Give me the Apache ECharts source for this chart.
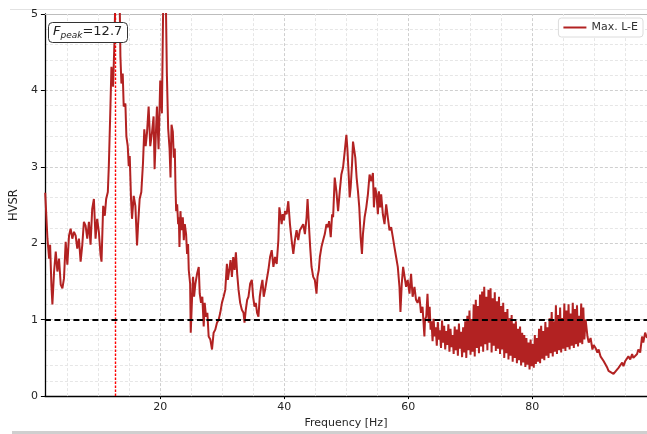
<!DOCTYPE html>
<html>
<head>
<meta charset="utf-8">
<script src="https://cdn.jsdelivr.net/npm/echarts@6/dist/echarts.min.js"></script>
<style>
html, body { margin: 0; padding: 0; background: #fff; }
#chart { width: 647px; height: 434px; }
</style>
</head>
<body>
<div id="chart"></div>
<script>
// HVSR curve, [frequency Hz, H/V ratio]
var segLow = [
    [1.45, 2.66], [1.54, 2.64], [1.81, 2.06], [2.08, 1.80], [2.24, 1.98], [2.45, 1.45], [2.61, 1.20],
    [2.88, 1.63], [3.15, 1.89], [3.41, 1.63], [3.68, 1.80], [3.95, 1.46], [4.22, 1.41], [4.48, 1.54],
    [4.75, 2.02], [5.02, 1.72], [5.29, 2.10], [5.55, 2.19], [5.82, 2.06], [6.09, 2.15], [6.36, 2.10],
    [6.62, 1.93], [6.89, 2.06], [7.16, 1.76], [7.43, 1.98], [7.69, 2.28], [7.96, 2.23], [8.23, 2.06],
    [8.50, 2.28], [8.76, 1.98], [9.03, 2.45], [9.30, 2.58], [9.57, 2.06], [9.83, 2.32], [10.10, 2.15],
    [10.37, 1.85], [10.53, 1.76], [10.80, 2.49], [11.06, 2.36], [11.28, 2.58], [11.55, 2.67], [11.71, 3.01],
    [11.97, 3.79], [12.13, 4.31], [12.40, 4.05], [12.62, 4.65], [12.78, 5.30], [13.04, 5.60], [13.30, 5.45],
    [13.47, 5.10], [13.58, 4.44], [13.74, 4.09], [13.95, 4.22], [14.11, 3.79], [14.38, 3.83], [14.54, 3.40],
    [14.76, 3.27], [14.92, 3.01], [15.08, 3.14], [15.29, 2.58], [15.45, 2.32], [15.72, 2.62], [15.99, 2.49],
    [16.26, 1.97], [16.42, 2.23], [16.68, 2.58], [16.95, 2.67], [17.22, 3.05], [17.43, 3.49], [17.65, 3.27],
    [17.86, 3.44], [18.13, 3.79], [18.39, 3.27], [18.66, 3.44], [18.93, 3.66], [19.09, 2.97], [19.30, 3.44],
    [19.47, 3.79], [19.73, 3.23], [20.00, 4.13], [20.27, 3.70], [20.53, 5.50], [20.80, 5.80], [21.07, 4.22]
];
var segMid = [
    [21.28, 3.50], [21.50, 3.24], [21.66, 2.86], [21.82, 3.55], [22.03, 3.46], [22.19, 3.12], [22.35, 3.24],
    [22.46, 2.73], [22.57, 2.42], [22.73, 2.51], [22.89, 2.25], [23.00, 2.34], [23.10, 1.95], [23.26, 2.42],
    [23.42, 2.17], [23.64, 2.34], [23.80, 2.04], [23.96, 2.25], [24.17, 2.12], [24.33, 1.86], [24.49, 1.99],
    [24.60, 1.65], [24.82, 1.47], [24.92, 0.83], [25.14, 1.30], [25.30, 1.56], [25.46, 1.30], [25.67, 1.47],
    [25.94, 1.60], [26.21, 1.69], [26.37, 1.34], [26.58, 1.22], [26.79, 1.30], [27.01, 0.91], [27.17, 1.22],
    [27.38, 1.04], [27.60, 1.09], [27.81, 0.78], [28.08, 0.74], [28.35, 0.61], [28.61, 0.83], [28.88, 0.87],
    [29.15, 0.96], [29.42, 1.00], [29.68, 1.09], [29.95, 1.22], [30.22, 1.30], [30.49, 1.39], [30.75, 1.73],
    [30.91, 1.52], [31.13, 1.65], [31.34, 1.78], [31.56, 1.56], [31.77, 1.82], [31.99, 1.65], [32.20, 1.88],
    [32.41, 1.60], [32.63, 1.39], [32.89, 1.22], [33.16, 1.13], [33.43, 1.09], [33.59, 0.96], [33.80, 1.13],
    [34.02, 1.26], [34.23, 1.30], [34.50, 1.47], [34.77, 1.52], [34.98, 1.30], [35.20, 1.17], [35.41, 1.22],
    [35.62, 1.09], [35.84, 1.04], [36.05, 1.30], [36.27, 1.43], [36.48, 1.52], [36.69, 1.30], [36.91, 1.39],
    [37.17, 1.52], [37.44, 1.65], [37.71, 1.82], [37.98, 1.91], [38.25, 1.69], [38.51, 1.82], [38.78, 1.73],
    [39.05, 2.04], [39.21, 2.47], [39.37, 2.38], [39.58, 2.25], [39.74, 2.38], [39.96, 2.30], [40.12, 2.42],
    [40.39, 2.38], [40.65, 2.55], [40.92, 2.25], [41.19, 2.04]
];
var segPeak = [
    [41.46, 1.86], [41.72, 2.04], [41.99, 2.17], [42.26, 2.04], [42.52, 2.17], [42.79, 2.21], [43.06, 2.25],
    [43.33, 2.12], [43.60, 2.34], [43.76, 2.58], [43.97, 2.25], [44.18, 1.95], [44.40, 1.69], [44.67, 1.56],
    [44.93, 1.52], [45.20, 1.34], [45.36, 1.56], [45.57, 1.65], [45.74, 1.82], [46.00, 1.95], [46.27, 2.04],
    [46.54, 2.12], [46.81, 2.25], [47.07, 2.21], [47.23, 2.29], [47.50, 2.08], [47.72, 2.38], [47.88, 2.34],
    [48.14, 2.86], [48.41, 2.68], [48.68, 2.42], [48.95, 2.68], [49.21, 2.90], [49.48, 2.99], [49.75, 3.20],
    [50.02, 3.42], [50.18, 3.24], [50.39, 2.90], [50.55, 2.60], [50.71, 2.73], [50.93, 3.03], [51.09, 3.33],
    [51.25, 3.35], [51.46, 3.12], [51.67, 2.86], [51.89, 2.68], [52.10, 2.47], [52.32, 2.08], [52.53, 1.86],
    [52.69, 2.12], [52.96, 2.34], [53.23, 2.47], [53.49, 2.64], [53.76, 2.90], [54.03, 2.81], [54.30, 2.92],
    [54.46, 2.47], [54.67, 2.73], [54.88, 2.64], [55.10, 2.38], [55.26, 2.68], [55.47, 2.47], [55.63, 2.64],
    [55.90, 2.38], [56.17, 2.25], [56.44, 2.51], [56.70, 2.34], [56.97, 2.17], [57.24, 2.21], [57.51, 2.08],
    [57.77, 1.95], [58.04, 1.82], [58.31, 1.69], [58.58, 1.43], [58.74, 1.10], [58.95, 1.47], [59.17, 1.69],
    [59.40, 1.69], [59.65, 1.43], [59.90, 1.52], [60.20, 1.34], [60.45, 1.60], [60.70, 1.30], [61.00, 1.43],
    [61.25, 1.26], [61.50, 1.22], [61.80, 1.30], [62.05, 1.09], [62.30, 1.17], [62.60, 0.78], [62.70, 1.00],
    [62.90, 1.04], [63.10, 1.34], [63.30, 0.96], [63.45, 1.17], [63.60, 0.87]
];
var segHigh = [
    [63.75, 0.98], [63.92, 0.72], [64.09, 1.01], [64.26, 0.78], [64.43, 0.90], [64.60, 0.66], [64.77, 0.97],
    [64.94, 0.74], [65.11, 0.86], [65.28, 0.63], [65.45, 0.99], [65.62, 0.70], [65.79, 0.92], [65.96, 0.61],
    [66.13, 0.85], [66.30, 0.67], [66.47, 0.94], [66.64, 0.58], [66.81, 0.88], [66.98, 0.64], [67.15, 0.80],
    [67.32, 0.55], [67.49, 0.91], [67.66, 0.60], [67.83, 0.87], [68.00, 0.53], [68.17, 0.95], [68.34, 0.62],
    [68.51, 0.84], [68.68, 0.51], [68.85, 0.90], [69.02, 0.57], [69.19, 0.98], [69.36, 0.50], [69.53, 1.05],
    [69.70, 0.60], [69.87, 1.12], [70.04, 0.54], [70.21, 1.01], [70.38, 0.58], [70.55, 1.20], [70.72, 0.52],
    [70.89, 1.26], [71.06, 0.63], [71.23, 1.18], [71.40, 0.56], [71.57, 1.33], [71.74, 0.65], [71.91, 1.37],
    [72.08, 0.58], [72.25, 1.43], [72.42, 0.68], [72.59, 1.30], [72.76, 0.60], [72.93, 1.39], [73.10, 0.70],
    [73.27, 1.41], [73.44, 0.57], [73.61, 1.28], [73.78, 0.66], [73.95, 1.36], [74.12, 0.59], [74.29, 1.24],
    [74.46, 0.62], [74.63, 1.30], [74.80, 0.55], [74.97, 1.18], [75.14, 0.61], [75.31, 1.22], [75.48, 0.50],
    [75.65, 1.10], [75.82, 0.56], [75.99, 1.14], [76.16, 0.48], [76.33, 1.02], [76.50, 0.53], [76.67, 1.06],
    [76.84, 0.45], [77.01, 0.95], [77.18, 0.50], [77.35, 0.98], [77.52, 0.43], [77.69, 0.88], [77.86, 0.47],
    [78.03, 0.91], [78.20, 0.40], [78.37, 0.83], [78.54, 0.44], [78.71, 0.80], [78.88, 0.38], [79.05, 0.76],
    [79.22, 0.41], [79.39, 0.70], [79.56, 0.35], [79.73, 0.74], [79.90, 0.39], [80.07, 0.68], [80.24, 0.37],
    [80.41, 0.80], [80.58, 0.42], [80.75, 0.76], [80.92, 0.45], [81.09, 0.88], [81.26, 0.43], [81.43, 0.92],
    [81.60, 0.49], [81.77, 0.85], [81.94, 0.47], [82.11, 0.97], [82.28, 0.53], [82.45, 0.90], [82.62, 0.50],
    [82.79, 1.02], [82.96, 0.56], [83.13, 1.10], [83.30, 0.52], [83.47, 0.98], [83.64, 0.58], [83.81, 1.19],
    [83.98, 0.55], [84.15, 1.06], [84.32, 0.60], [84.49, 1.16], [84.66, 0.57], [84.83, 1.02], [85.00, 0.62],
    [85.17, 1.21], [85.34, 0.59], [85.51, 1.12], [85.68, 0.64], [85.85, 1.20], [86.02, 0.61], [86.19, 1.08],
    [86.36, 0.66], [86.53, 1.22], [86.70, 0.63], [86.87, 1.14], [87.04, 0.68], [87.21, 1.19], [87.38, 0.65],
    [87.55, 1.05], [87.72, 0.70], [87.89, 1.21], [88.06, 0.68], [88.23, 1.16], [88.40, 0.74]
];
var segTail = [
    [88.60, 1.00], [88.90, 0.78], [89.10, 0.70], [89.40, 0.76], [89.70, 0.61], [89.90, 0.67], [90.20, 0.63],
    [90.50, 0.57], [90.70, 0.61], [91.00, 0.52], [91.30, 0.54], [91.50, 0.46], [91.80, 0.44], [92.10, 0.37],
    [92.30, 0.33], [92.60, 0.31], [93.10, 0.29], [93.40, 0.32], [93.70, 0.30], [93.90, 0.37], [94.20, 0.35],
    [94.50, 0.44], [94.70, 0.39], [95.00, 0.46], [95.30, 0.44], [95.50, 0.52], [95.80, 0.48], [96.10, 0.55],
    [96.30, 0.50], [96.60, 0.52], [96.90, 0.55], [97.10, 0.61], [97.40, 0.57], [97.70, 0.78], [97.90, 0.70],
    [98.20, 0.83], [98.50, 0.76]
];

var xTicks = [20, 40, 60, 80];
var gridFreqs = [5, 10, 15, 20, 25, 30, 35, 40, 45, 50, 55, 60, 65, 70, 75, 80, 85, 90, 95];
var fPeak = 12.7;
var hvsrLimit = 1;

var font = 'DejaVu Sans';
var hvsrCurve = segLow.concat(segMid, segPeak, segHigh, segTail);

var chart = echarts.init(document.getElementById('chart'));
var option = {
    animation: false,
    backgroundColor: '#fff',
    textStyle: { fontFamily: font },
    grid: { left: 42, right: 0, top: 14, bottom: 33, containLabel: false },
    title: {
        text: '{f|F}{s|peak}{n|=12.7}',
        left: 48,
        top: 20,
        padding: [3, 5, 3, 5],
        backgroundColor: '#fff',
        borderColor: '#333',
        borderWidth: 1,
        borderRadius: 4,
        textStyle: {
            fontWeight: 'normal',
            rich: {
                f: { fontSize: 13, fontStyle: 'italic', fontWeight: 'normal', color: '#222', fontFamily: font, lineHeight: 17 },
                s: { fontSize: 9, fontStyle: 'italic', fontWeight: 'normal', color: '#222', fontFamily: font, verticalAlign: 'bottom', lineHeight: 17 },
                n: { fontSize: 13, fontWeight: 'normal', color: '#222', fontFamily: font, lineHeight: 17 }
            }
        }
    },
    legend: {
        data: ['Max. L-E'],
        right: 4,
        top: 18,
        icon: 'rect',
        itemWidth: 23,
        itemHeight: 2,
        itemGap: 5,
        padding: [4, 5],
        borderColor: '#dcdcdc',
        borderWidth: 1,
        borderRadius: 3,
        backgroundColor: '#fff',
        textStyle: { fontSize: 11, color: '#333', fontFamily: font }
    },
    graphic: [
        { type: 'line', shape: { x1: 10, y1: 9.5, x2: 647, y2: 9.5 }, style: { stroke: '#e2e2e2', lineWidth: 1 } },
        { type: 'rect', shape: { x: 12, y: 431, width: 635, height: 3 }, style: { fill: '#cfcfcf' } }
    ],
    xAxis: [{
        type: 'value',
        min: 1.4,
        max: 98.5,
        position: 'bottom',
        name: 'Frequency [Hz]',
        nameLocation: 'middle',
        nameGap: 18,
        nameTextStyle: { fontSize: 11, color: '#262626', fontFamily: font },
        axisLine: { onZero: false, lineStyle: { color: '#000', width: 1.3 } },
        axisTick: { show: true, length: 3, customValues: xTicks, lineStyle: { color: '#000' } },
        axisLabel: { customValues: xTicks, fontSize: 11, color: '#262626', margin: 6 },
        splitLine: { show: false }
    }, {
        type: 'value',
        min: 1.4,
        max: 98.5,
        position: 'top',
        axisLine: { show: true, onZero: false, lineStyle: { color: '#bdbdbd', width: 1 } },
        axisTick: { show: false },
        axisLabel: { show: false },
        splitLine: { show: false }
    }],
    yAxis: {
        type: 'value',
        min: 0,
        max: 5,
        interval: 1,
        name: 'HVSR',
        nameLocation: 'middle',
        nameGap: 17,
        nameTextStyle: { fontSize: 11.5, color: '#262626', fontFamily: font },
        axisLine: { show: true, onZero: false, lineStyle: { color: '#000', width: 1.3 } },
        axisTick: { show: true, length: 4, lineStyle: { color: '#000' } },
        axisLabel: { fontSize: 11, color: '#262626', margin: 7 },
        splitLine: { show: true, lineStyle: { color: '#cfcfcf', type: [3, 2], width: 1 } },
        minorTick: { show: false, splitNumber: 5 },
        minorSplitLine: { show: true, lineStyle: { color: '#e6e6e6', type: [3, 2], width: 1 } }
    },
    series: [{
        // vertical grid every 5 Hz
        type: 'line',
        data: [],
        silent: true,
        z: 1,
        markLine: {
            silent: true,
            z: 1,
            symbol: ['none', 'none'],
            label: { show: false },
            data: gridFreqs.map(function (f) {
                return {
                    xAxis: f,
                    lineStyle: { color: f % 20 === 0 ? '#cfcfcf' : '#e6e6e6', type: [3, 2], width: 1 }
                };
            })
        }
    }, {
        name: 'Max. L-E',
        type: 'line',
        data: hvsrCurve,
        showSymbol: false,
        symbol: 'none',
        clip: true,
        z: 2,
        color: '#b22222',
        lineStyle: { color: '#b22222', width: 2 },
        markLine: {
            silent: true,
            symbol: ['none', 'none'],
            label: { show: false },
            data: [
                { xAxis: fPeak, lineStyle: { color: '#ff0000', type: [2.5, 1.5], width: 1.4 } },
                { yAxis: hvsrLimit, lineStyle: { color: '#000', type: [6, 3.5], width: 2 } }
            ]
        }
    }]
};
chart.setOption(option);
</script>
</body>
</html>
